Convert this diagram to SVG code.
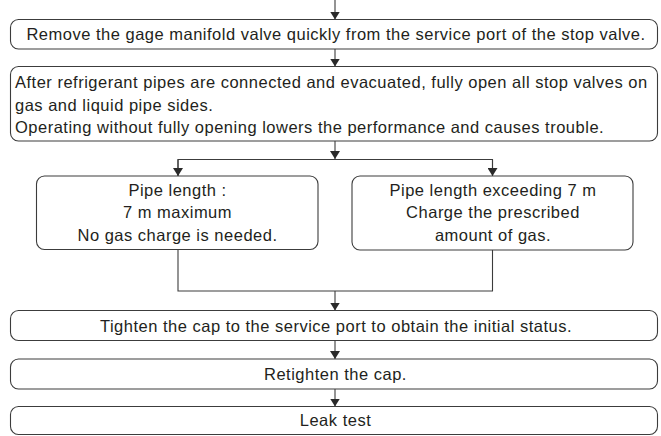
<svg xmlns="http://www.w3.org/2000/svg" width="661" height="436" viewBox="0 0 661 436">
<style>
.box{fill:#fff;stroke:#3c3c3c;stroke-width:1.1}
.ln{fill:none;stroke:#3c3c3c;stroke-width:1.1}
text{font-family:"Liberation Sans",Arial,sans-serif;font-size:16.5px;letter-spacing:0.5px;fill:#231f20}
.c{text-anchor:middle}
</style>
<defs>
<marker id="ah" viewBox="0 0 8 10" refX="8" refY="5" markerWidth="8" markerHeight="10" markerUnits="userSpaceOnUse" orient="auto">
<path d="M0,0 L8,5 L0,10 z" fill="#2a2a2a"/>
</marker>
</defs>
<rect width="661" height="436" fill="#fff"/>
<g id="connectors">
<path class="ln" d="M335,0 V19.5" marker-end="url(#ah)"/>
<path class="ln" d="M335,49 V66.5" marker-end="url(#ah)"/>
<path class="ln" d="M335,141 V159" marker-end="url(#ah)"/>
<path class="ln" d="M178,176 V159.5 H492.5 V176"/>
<path class="ln" d="M178,159.5 V176" marker-end="url(#ah)"/>
<path class="ln" d="M492.5,159.5 V176" marker-end="url(#ah)"/>
<path class="ln" d="M178,249.5 V291 H492.5 V250"/>
<path class="ln" d="M335,291 V310.5" marker-end="url(#ah)"/>
<path class="ln" d="M335,340.5 V359" marker-end="url(#ah)"/>
<path class="ln" d="M335,389 V406.5" marker-end="url(#ah)"/>
</g>
<g id="n1">
<rect class="box" x="10.5" y="19.5" width="647" height="29.5" rx="8"/>
<text class="c" x="336" y="40">Remove the gage manifold valve quickly from the service port of the stop valve.</text>
</g>
<g id="n2">
<rect class="box" x="10.5" y="66.5" width="647" height="74.5" rx="8"/>
<text x="15" y="88">After refrigerant pipes are connected and evacuated, fully open all stop valves on</text>
<text x="15" y="110.5">gas and liquid pipe sides.</text>
<text x="15" y="133">Operating without fully opening lowers the performance and causes trouble.</text>
</g>
<g id="n3">
<rect class="box" x="36.5" y="176" width="281.5" height="73.5" rx="8"/>
<text class="c" x="177.5" y="195.5">Pipe length :</text>
<text class="c" x="177.5" y="218">7 m maximum</text>
<text class="c" x="177.5" y="240.5">No gas charge is needed.</text>
</g>
<g id="n4">
<rect class="box" x="352" y="176" width="281" height="74" rx="8"/>
<text class="c" x="493" y="195.5">Pipe length exceeding 7 m</text>
<text class="c" x="493" y="218">Charge the prescribed</text>
<text class="c" x="493" y="240.5">amount of gas.</text>
</g>
<g id="n5">
<rect class="box" x="10.5" y="310.5" width="647" height="30" rx="8"/>
<text class="c" x="336" y="331.5">Tighten the cap to the service port to obtain the initial status.</text>
</g>
<g id="n6">
<rect class="box" x="10.5" y="359" width="647" height="30" rx="8"/>
<text class="c" x="335.5" y="379.5">Retighten the cap.</text>
</g>
<g id="n7">
<rect class="box" x="10.5" y="406.5" width="647" height="28" rx="8"/>
<text class="c" x="335.5" y="426">Leak test</text>
</g>
</svg>
